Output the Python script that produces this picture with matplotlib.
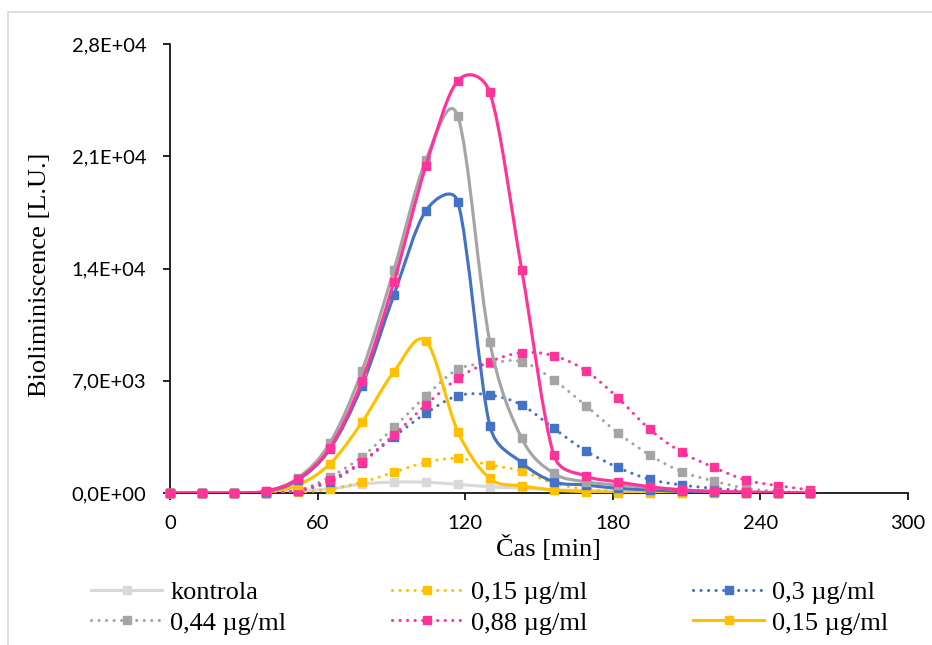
import numpy as np
import matplotlib
matplotlib.use("Agg")
import matplotlib.pyplot as plt
from matplotlib.path import Path
from matplotlib.patches import PathPatch, Rectangle
from matplotlib.lines import Line2D
from matplotlib.ticker import FuncFormatter, MultipleLocator

# measurement times [min]
cas = [0, 13, 26, 39, 52, 65, 78, 91, 104, 117, 130, 143, 156, 169, 182, 195, 208, 221, 234, 247, 260]

kontrola = [0, 0, 0, 30, 150, 250, 560, 680, 670, 540, 390, 300, 200, 150, 100, 70, 50, 30, 20, 10, 0]
c015_dot = [0, 0, 0, 20, 40, 250, 670, 1290, 1910, 2160, 1750, 1370, 600, 250, 100, 50, 20, 10, 0, 0, 0]
c03_dot = [0, 0, 0, 20, 150, 700, 1900, 3500, 4970, 6070, 6110, 5490, 4030, 2620, 1600, 850, 500, 290, 150, 50, 0]
c044_dot = [0, 0, 0, 20, 150, 1000, 2260, 4090, 6050, 7710, 8100, 8190, 7050, 5450, 3760, 2370, 1330, 750, 300, 100, 50]
c088_dot = [0, 0, 0, 20, 150, 810, 1950, 3620, 5490, 7150, 8190, 8750, 8560, 7630, 5940, 3970, 2540, 1600, 810, 460, 190]
c015_sol = [0, 0, 0, 60, 500, 1810, 4400, 7560, 9480, 3830, 910, 450, 190, 80, 20, 10, 0, 0, 0, 0, 0]
c03_sol = [0, 0, 0, 80, 810, 2740, 6670, 12340, 17600, 18160, 4200, 1890, 700, 500, 290, 200, 100, 50, 20, 10, 0]
c044_sol = [0, 0, 0, 100, 930, 3120, 7600, 13900, 20760, 23500, 9430, 3410, 1230, 700, 500, 350, 200, 100, 50, 20, 0]
c088_sol = [0, 0, 0, 120, 870, 2800, 6980, 13150, 20390, 25710, 24980, 13900, 2370, 1060, 700, 390, 190, 100, 60, 30, 0]

YELLOW = "#ffc000"
BLUE = "#4472c4"
GRAY = "#a5a5a5"
PINK = "#ff3399"
LIGHT = "#d9d9d9"
DOTS = (0, (0.01, 2.4))

# (values, colour, dotted?, legend label)
series = [
    (kontrola, LIGHT, False, "kontrola"),
    (c015_dot, YELLOW, True, "0,15 µg/ml"),
    (c03_dot, BLUE, True, "0,3 µg/ml"),
    (c044_dot, GRAY, True, "0,44 µg/ml"),
    (c088_dot, PINK, True, "0,88 µg/ml"),
    (c015_sol, YELLOW, False, "0,15 µg/ml"),
    (c03_sol, BLUE, False, None),
    (c044_sol, GRAY, False, None),
    (c088_sol, PINK, False, None),
]

XMAX, YMAX = 300, 28000
AX_W, AX_H = 738, 449  # axes size in pixels


def smooth_path(x, y):
    # cubic bezier through the points, tangents limited so peaks don't overshoot much
    sc = np.array([AX_W / XMAX, AX_H / YMAX])
    pts = np.column_stack([x, y]).astype(float) * sc
    n = len(pts)
    verts = [pts[0]]
    codes = [Path.MOVETO]
    for i in range(n - 1):
        p0 = pts[i - 1] if i > 0 else pts[i]
        p1 = pts[i]
        p2 = pts[i + 1]
        p3 = pts[i + 2] if i + 2 < n else pts[i + 1]
        chord = np.hypot(*(p2 - p1))
        t1 = (p2 - p0) / 6.0
        t2 = (p3 - p1) / 6.0
        for t in (t1, t2):
            L = np.hypot(*t)
            if L > 0.5 * chord and L > 0:
                t *= 0.5 * chord / L
        verts += [p1 + t1, p2 - t2, p2]
        codes += [Path.CURVE4] * 3
    return Path(np.array(verts) / sc, codes)


fig = plt.figure(figsize=(9.32, 6.45), dpi=100)
ax = fig.add_axes([170 / 932, 1 - 493 / 645, AX_W / 932, AX_H / 645])

handles = []
labels = []
for k, (vals, col, dotted, lab) in enumerate(series):
    z = 2 + k
    patch = PathPatch(smooth_path(cas, vals), facecolor="none", edgecolor=col,
                      linewidth=2.25, zorder=z)
    if dotted:
        patch.set_linestyle(DOTS)
        patch.set_capstyle("round")
    ax.add_patch(patch)
    ax.plot(cas, vals, ls="none", marker="s", ms=6, color=col, zorder=z + 0.5, clip_on=False)
    if lab is not None:
        h = Line2D([], [], color=col, lw=2.25, ls=DOTS if dotted else "-",
                   dash_capstyle="round", marker="s", ms=6)
        handles.append(h)
        labels.append(lab)

ax.set_xlim(0, XMAX)
ax.set_ylim(0, YMAX)
ax.xaxis.set_major_locator(MultipleLocator(60))
ax.yaxis.set_major_locator(MultipleLocator(7000))
ax.yaxis.set_major_formatter(FuncFormatter(lambda v, p: ("%.1E" % v).replace(".", ",")))

for s in ["top", "right"]:
    ax.spines[s].set_visible(False)
for s in ["left", "bottom"]:
    ax.spines[s].set_linewidth(1.2)
ax.tick_params(direction="out", length=5, width=1.2, labelsize=14.5)
ax.tick_params(axis="y", pad=12)
ax.tick_params(axis="x", pad=11)
for lbl in ax.get_xticklabels() + ax.get_yticklabels():
    lbl.set_fontfamily("Lato")

ax.set_xlabel("Čas [min]", fontfamily="Liberation Serif", fontsize=19)
ax.xaxis.set_label_coords((548 - 170) / AX_W, (493 - 548) / AX_H)
ax.xaxis.label.set_va("center")
ax.set_ylabel("Bioliminiscence [L.U.]", fontfamily="Liberation Serif", fontsize=19)
ax.yaxis.set_label_coords((40 - 170) / AX_W, (493 - 275) / AX_H)
ax.yaxis.label.set_va("center")

# legend is filled column by column, so reorder to read row by row
order = [0, 3, 1, 4, 2, 5]
fig.legend([handles[i] for i in order], [labels[i] for i in order], ncol=3,
           frameon=False, loc="upper left",
           bbox_to_anchor=(91 / 932, 1 - 581 / 645), borderpad=0, borderaxespad=0,
           prop={"family": "Liberation Serif", "size": 19},
           handlelength=2.7, handletextpad=0.3, columnspacing=4.0, labelspacing=0.25)

# chart area border
fig.add_artist(Rectangle((8 / 932, -0.1), 1.2, 1.1 - 12 / 645, transform=fig.transFigure,
                         fill=False, edgecolor=LIGHT, linewidth=1.2))

fig.savefig("out.png", dpi=100)
